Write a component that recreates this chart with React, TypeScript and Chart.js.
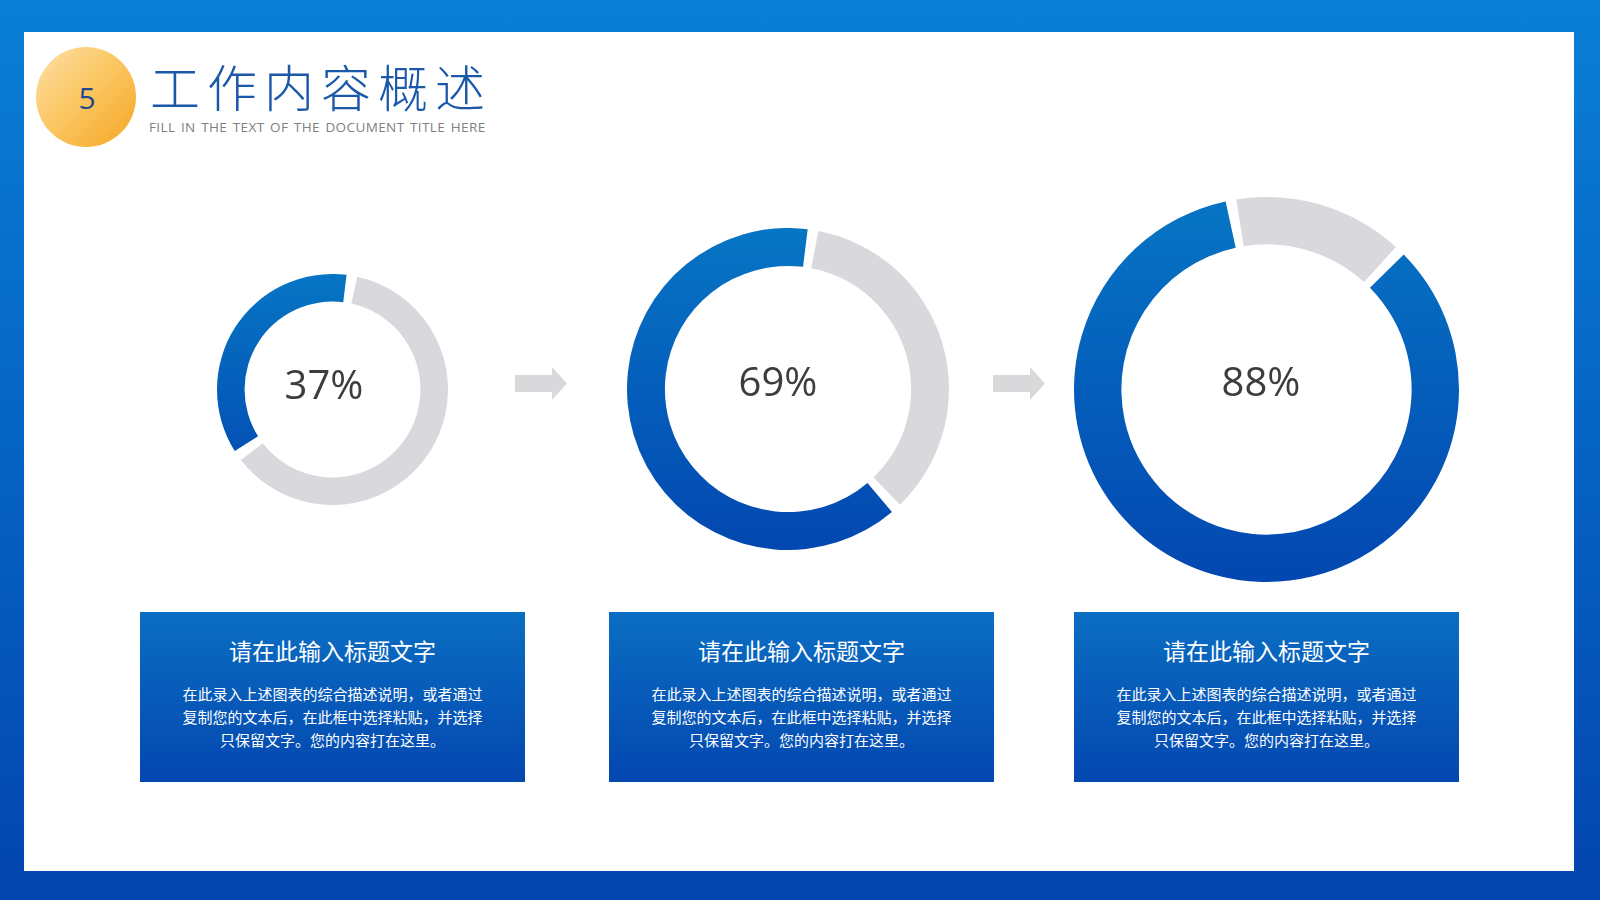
import React, { useEffect, useRef } from "react";
import { Chart, registerables } from "chart.js";

Chart.register(...registerables);

// ---- data ----
const percentLabels = ["37%", "69%", "88%"];
const blueArc = [37, 64.5, 85.5];
const grayArc = [63, 35.5, 14.5];
const segmentNames = ["剩余", "完成"];
const boxTitles = ["请在此输入标题文字", "请在此输入标题文字", "请在此输入标题文字"];
const boxLines = [
  "在此录入上述图表的综合描述说明，或者通过",
  "复制您的文本后，在此框中选择粘贴，并选择",
  "只保留文字。您的内容打在这里。",
];

// ---- layout (not data) ----
const donutLayout = [
  { cx: 332, cy: 389, r: 115.5, cutout: "75.5%", rotation: 9, tx: 324, ty: 384 },
  { cx: 787.5, cy: 389, r: 161, cutout: "76%", rotation: 9.5, tx: 778, ty: 381 },
  { cx: 1266, cy: 389, r: 192.5, cutout: "75%", rotation: -9.5, tx: 1261, ty: 381 },
];
const boxLefts = [140, 609, 1074];
const arrowLefts = [515, 993];

const SPACING = 6;

function Donut(props: { idx: number }) {
  const ref = useRef<HTMLCanvasElement | null>(null);
  const L = donutLayout[props.idx];
  const size = Math.round(L.r * 2);
  useEffect(() => {
    if (!ref.current) return;
    const chart = new Chart(ref.current, {
      type: "doughnut",
      data: {
        labels: segmentNames,
        datasets: [
          {
            data: [grayArc[props.idx], blueArc[props.idx]],
            backgroundColor: (ctx: any) => {
              if (ctx.dataIndex === 0) return "#d9d8dc";
              const c = ctx.chart;
              const area = c.chartArea;
              if (!area) return "#0560bb";
              const g = c.ctx.createLinearGradient(0, area.top, 0, area.bottom);
              g.addColorStop(0, "#0675c4");
              g.addColorStop(1, "#0347b1");
              return g;
            },
            borderWidth: 0,
            spacing: SPACING,
          } as any,
        ],
      },
      options: {
        animation: false,
        responsive: false,
        maintainAspectRatio: false,
        cutout: L.cutout,
        rotation: L.rotation,
        layout: { padding: 0 },
        plugins: { legend: { display: false }, tooltip: { enabled: false } },
        events: [],
      } as any,
    });
    return () => chart.destroy();
  }, [props.idx]);
  return (
    <canvas
      ref={ref}
      width={size}
      height={size}
      style={{
        position: "absolute",
        left: L.cx - size / 2,
        top: L.cy - size / 2,
        width: size,
        height: size,
      }}
    />
  );
}

export default function App() {
  useEffect(() => {
    document.body.style.margin = "0";
  }, []);
  return (
    <div
      style={{
        position: "fixed",
        left: 0,
        top: 0,
        width: 1600,
        height: 900,
        overflow: "hidden",
        background: "linear-gradient(180deg, #0a7fd5 0%, #0563c4 50%, #0345ae 100%)",
        fontFamily: "'Noto Sans CJK SC', 'Open Sans', sans-serif",
      }}
    >
      <div
        style={{
          position: "absolute",
          left: 24,
          top: 32,
          width: 1550,
          height: 839,
          background: "#ffffff",
        }}
      />
      {/* badge */}
      <div
        style={{
          position: "absolute",
          left: 36,
          top: 47,
          width: 100,
          height: 100,
          borderRadius: "50%",
          background: "linear-gradient(135deg, #fde0a6 0%, #fbc866 45%, #f6a623 100%)",
          display: "flex",
          alignItems: "center",
          justifyContent: "center",
          color: "#24488f",
          fontFamily: "'Open Sans', sans-serif",
          fontSize: 30,
          lineHeight: "30px",
          paddingTop: 2,
          paddingLeft: 2,
          boxSizing: "border-box",
        }}
      >
        5
      </div>
      <div
        style={{
          position: "absolute",
          left: 150,
          top: 55,
          fontSize: 50,
          lineHeight: "60px",
          letterSpacing: 7,
          color: "#1b58aa",
          fontWeight: 200,
          whiteSpace: "nowrap",
        }}
      >
        工作内容概述
      </div>
      <div
        style={{
          position: "absolute",
          left: 149,
          top: 118,
          fontSize: 13.5,
          lineHeight: "18px",
          color: "#808080",
          fontFamily: "'Open Sans', sans-serif",
          letterSpacing: 0.4,
          wordSpacing: 1.6,
          whiteSpace: "nowrap",
        }}
      >
        FILL IN THE TEXT OF THE DOCUMENT TITLE HERE
      </div>

      {donutLayout.map((_, i) => (
        <Donut key={"d" + i} idx={i} />
      ))}
      {donutLayout.map((L, i) => (
        <div
          key={"t" + i}
          style={{
            position: "absolute",
            left: L.tx - 100,
            top: L.ty - 30,
            width: 200,
            height: 60,
            lineHeight: "60px",
            textAlign: "center",
            fontSize: 40,
            color: "#3d3d3d",
            fontFamily: "'Open Sans', sans-serif",
          }}
        >
          {percentLabels[i]}
        </div>
      ))}

      {arrowLefts.map((x, i) => (
        <svg
          key={"a" + i}
          width={60}
          height={40}
          style={{ position: "absolute", left: x, top: 364 }}
        >
          <polygon
            points="0,11 37,11 37,3 52,19.5 37,36 37,28 0,28"
            fill="#d9d9db"
          />
        </svg>
      ))}

      {boxLefts.map((x, i) => (
        <div
          key={"b" + i}
          style={{
            position: "absolute",
            left: x,
            top: 612,
            width: 385,
            height: 170,
            background: "linear-gradient(180deg, #0a6ec2 0%, #0447b0 100%)",
            color: "#ffffff",
            textAlign: "center",
          }}
        >
          <div
            style={{
              position: "absolute",
              left: 0,
              right: 0,
              top: 23,
              fontSize: 23,
              lineHeight: "30px",
            }}
          >
            {boxTitles[i]}
          </div>
          <div
            style={{
              position: "absolute",
              left: 0,
              right: 0,
              top: 69.5,
              fontSize: 15,
              lineHeight: "23px",
            }}
          >
            {boxLines.map((l, k) => (
              <div key={k}>{l}</div>
            ))}
          </div>
        </div>
      ))}
    </div>
  );
}
